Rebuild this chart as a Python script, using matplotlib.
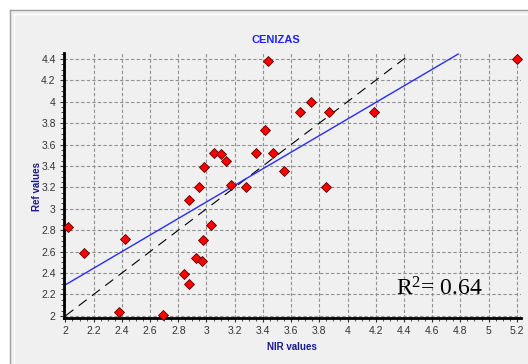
import matplotlib
matplotlib.use("Agg")
import matplotlib.pyplot as plt
from matplotlib.ticker import MultipleLocator
from matplotlib.lines import Line2D
from matplotlib.patches import Rectangle
import numpy as np

# ---- data ----
nir_values = [2.02, 2.13, 2.42, 2.38, 2.69, 2.84, 2.875, 2.875, 2.925, 2.97,
              2.975, 3.035, 2.95, 3.175, 3.28, 2.98, 3.05, 3.10, 3.135, 3.35,
              3.415, 3.435, 3.47, 3.55, 3.66, 3.74, 3.87, 4.19, 3.85, 5.2]
ref_values = [2.83, 2.59, 2.72, 2.04, 2.01, 2.39, 2.30, 3.08, 2.545, 2.51,
              2.71, 2.85, 3.20, 3.22, 3.20, 3.39, 3.52, 3.51, 3.45, 3.52,
              3.74, 4.38, 3.52, 3.35, 3.90, 4.00, 3.90, 3.90, 3.20, 4.40]
fit_slope = 0.774
fit_intercept = 0.742
fit_x_range = [2.0, 4.785]
ideal_x_range = [2.0, 4.42]
r2_value = 0.64
title = "CENIZAS"
xlabel = "NIR values"
ylabel = "Ref values"

plt.rcParams["mathtext.fontset"] = "custom"
plt.rcParams["mathtext.rm"] = "Liberation Serif"
plt.rcParams["mathtext.it"] = "Liberation Serif"

W, H = 528, 364
fig = plt.figure(figsize=(W / 100, H / 100), dpi=100)
fig.patch.set_facecolor("#f0f0f0")

# window-like frame
fig.add_artist(Rectangle((0, 1 - 10 / H), 1, 10 / H, transform=fig.transFigure, facecolor="white", edgecolor="none"))
fig.add_artist(Rectangle((0, 0), 10 / W, 1, transform=fig.transFigure, facecolor="white", edgecolor="none"))
fig.add_artist(Line2D([10 / W, 1], [1 - 10 / H, 1 - 10 / H], color="#a0a0a0", lw=1.0, transform=fig.transFigure))
fig.add_artist(Line2D([10 / W, 10 / W], [0, 1 - 10 / H], color="#a0a0a0", lw=1.0, transform=fig.transFigure))
fig.add_artist(Line2D([14 / W, 1], [1 - 14 / H, 1 - 14 / H], color="#ffffff", lw=1.0, transform=fig.transFigure))
fig.add_artist(Line2D([14 / W, 14 / W], [0, 1 - 14 / H], color="#ffffff", lw=1.0, transform=fig.transFigure))

ax = fig.add_axes([64 / W, 1 - 318 / H, (521 - 64) / W, (318 - 53) / H])
ax.set_facecolor("#f0f0f0")
ax.set_xlim(1.99, 5.23)
ax.set_ylim(1.98, 4.455)

ax.xaxis.set_major_locator(MultipleLocator(0.2))
ax.yaxis.set_major_locator(MultipleLocator(0.2))
ax.xaxis.set_minor_locator(MultipleLocator(0.05))
ax.yaxis.set_minor_locator(MultipleLocator(0.05))

def fmt(v, pos):
    s = f"{v:.1f}"
    if s.endswith(".0"):
        s = s[:-2]
    return s
ax.xaxis.set_major_formatter(plt.FuncFormatter(fmt))
ax.yaxis.set_major_formatter(plt.FuncFormatter(fmt))

ax.grid(True, which="major", color="#909090", linestyle=(0, (3, 2)), linewidth=0.8)
ax.set_axisbelow(True)
for s in ["top", "right"]:
    ax.spines[s].set_visible(False)
for s in ["left", "bottom"]:
    ax.spines[s].set_linewidth(2.0)
    ax.spines[s].set_color("black")

ax.tick_params(which="major", length=3, width=0.8, color="#333333", labelsize=7.5,
               labelcolor="#333333", pad=3)
ax.tick_params(which="minor", length=2, width=0.6, color="#333333")
for lab in ax.get_xticklabels() + ax.get_yticklabels():
    lab.set_family("Liberation Sans")

# ideal line (y = x)
xi = np.array(ideal_x_range)
ax.plot(xi, xi, color="black", linestyle=(0, (9, 6)), linewidth=0.8, zorder=2)
# regression line
xf = np.array(fit_x_range)
ax.plot(xf, fit_slope * xf + fit_intercept, color="#2a2aff", linewidth=1.0, zorder=2)

ax.plot(nir_values, ref_values, linestyle="none", marker="D", markersize=5.5,
        markerfacecolor="#ff0000", markeredgecolor="#550000", markeredgewidth=0.6,
        zorder=3, clip_on=False)

fig.text(276 / W, 1 - 40 / H, title, color="#2020ff", fontsize=8, fontweight="bold",
         family="Liberation Sans", ha="center", va="center")
fig.text(292 / W, 1 - 347 / H, xlabel, color="#1a1a8c", fontsize=7, fontweight="bold",
         family="Liberation Sans", ha="center", va="center")
fig.text(37 / W, 1 - 187 / H, ylabel, color="#1a1a8c", fontsize=7, fontweight="bold",
         family="Liberation Sans", ha="center", va="center", rotation=90)

fig.text(396 / W, 1 - 295 / H, r"R$^{2}$" + f"= {r2_value:.2f}", color="black", fontsize=17,
         family="Liberation Serif", ha="left", va="baseline")

fig.savefig("out.png", dpi=100, facecolor=fig.get_facecolor())
